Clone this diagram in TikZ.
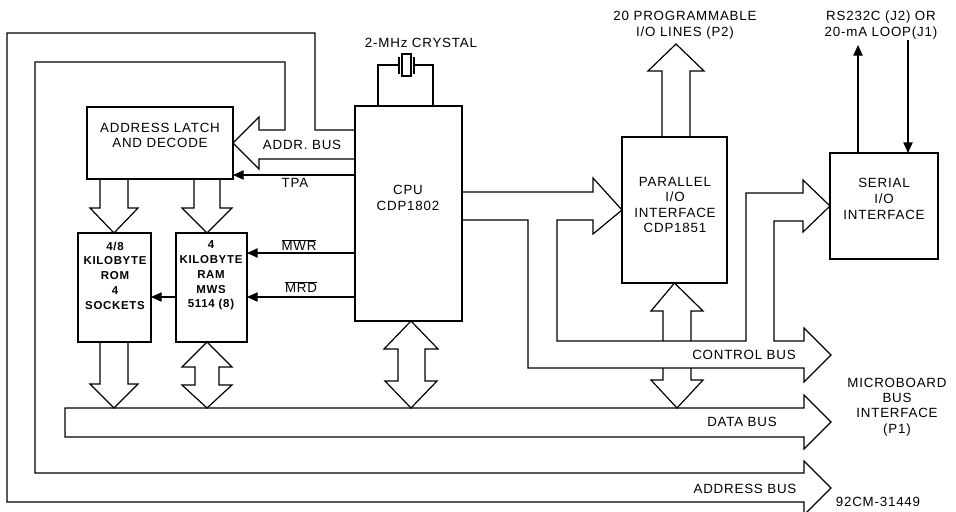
\documentclass[tikz,border=0pt]{standalone}
\usepackage{fontspec}
\setmainfont{Liberation Sans}[LetterSpace=6]
\usetikzlibrary{arrows.meta}
\begin{document}
\begin{tikzpicture}[x=0.75pt,y=-0.75pt,line width=0.9pt,line join=miter,
  box/.style={draw,rectangle,inner sep=0pt,outer sep=0pt},
  txt/.style={align=center,inner sep=0pt,font=\fontsize{10}{11.6}\selectfont},
  smalltxt/.style={align=center,inner sep=0pt,font=\fontsize{8.6}{11.1}\selectfont\bfseries},
  sig/.style={-{Triangle[length=8pt,width=7pt]}},
  bus/.style={draw,line join=miter}]
\useasboundingbox (0,0) rectangle (956,511);
\clip (0,0) rectangle (956,511);

% ---- boxes ----
\node[box,minimum width=109.5pt,minimum height=54pt] (latch) at (160,143) {};
\node[box,minimum width=54.75pt,minimum height=81.75pt] (rom) at (114.5,287.5) {};
\node[box,minimum width=53.25pt,minimum height=81.75pt] (ram) at (211.5,287.5) {};
\node[box,minimum width=80.25pt,minimum height=161.25pt] (cpu) at (408.5,213.5) {};
\node[box,minimum width=78.75pt,minimum height=109.5pt] (pio) at (674.5,210) {};
\node[box,minimum width=81pt,minimum height=79.5pt] (sio) at (884,206) {};

% ---- box texts ----
\node[txt] (latchtxt) at (160,135.5) {ADDRESS LATCH\\AND DECODE};
\node[smalltxt] (romtxt) at (115,275.5) {4/8\\KILOBYTE\\ROM\\4\\SOCKETS};
\node[smalltxt] (ramtxt) at (211,275.5) {4\\KILOBYTE\\RAM\\MWS\\5114 (8)};
\node[txt] (cputxt) at (408,198) {CPU\\CDP1802};
\node[txt,font=\fontsize{10}{11.5}\selectfont] (piotxt) at (675,205) {PARALLEL\\I/O\\INTERFACE\\CDP1851};
\node[txt,font=\fontsize{10}{12}\selectfont] (siotxt) at (884,199) {SERIAL\\I/O\\INTERFACE};

% ---- address bus (loops round to the bottom) ----
\draw[bus] (cpu.west |- 0,130) -- (315,130) -- (315,33) -- (7,33) -- (7,502)
  -- (804,502) -- (804,515) -- (831,488) -- (804,461) -- (804,473)
  -- (35,473) -- (35,62) -- (285,62) -- (285,130) -- (259,130) -- (259,117)
  -- (latch.east) -- (259,169) -- (259,159) -- (cpu.west |- 0,159);

% ---- data bus ----
\draw[bus] (65,408) -- (804,408) -- (804,395) -- (831,422) -- (804,449)
  -- (804,437) -- (65,437) -- cycle;

% ---- control bus ----
\draw[bus] (cpu.east |- 0,192) -- (593,192) -- (593,178) -- (pio.west) -- (593,234)
  -- (593,220) -- (557,220) -- (557,341) -- (746,341) -- (746,193) -- (803,193)
  -- (803,180) -- (sio.west) -- (803,232) -- (803,221) -- (774,221) -- (774,341)
  -- (804,341) -- (804,328) -- (831,355) -- (804,382) -- (804,368) -- (528,368)
  -- (528,220) -- (cpu.east |- 0,220);

% parallel I/O bus arrows
\draw[bus] (663,341) -- (663,311) -- (651,311) -- (pio.south) -- (703,311) -- (691,311) -- (691,341);
\draw[bus] (663,368) -- (663,380) -- (651,380) -- (677,408) -- (703,380) -- (691,380) -- (691,368);
\draw[bus] (pio.north -| 662,0) -- (662,71) -- (648,71) -- (676,44) -- (704,71) -- (690,71) -- (pio.north -| 690,0);

% latch to memories
\draw[bus] (latch.south -| 100,0) -- (100,208) -- (90,208) -- (rom.north -| 114,0) -- (138,208) -- (128,208) -- (latch.south -| 128,0);
\draw[bus] (latch.south -| 194,0) -- (194,208) -- (182,208) -- (ram.north -| 207,0) -- (232,208) -- (220,208) -- (latch.south -| 220,0);

% memories / cpu to data bus
\draw[bus] (rom.south -| 100,0) -- (100,384) -- (90,384) -- (114,408) -- (138,384) -- (128,384) -- (rom.south -| 128,0);
\draw[bus] (ram.south -| 207,0) -- (232,367) -- (219,367) -- (219,385) -- (232,385) -- (207,408)
  -- (182,385) -- (195,385) -- (195,367) -- (182,367) -- cycle;
\draw[bus] (cpu.south -| 411,0) -- (438,349) -- (425,349) -- (425,381) -- (437,381) -- (411,408)
  -- (385,381) -- (398,381) -- (398,349) -- (384,349) -- cycle;

% ---- crystal ----
\draw (cpu.north -| 378,0) -- (378,65) -- (399,65);
\draw (399,57) -- (399,74);
\draw (402,54) rectangle (411,76);
\draw (414,57) -- (414,74);
\draw (414,65) -- (433,65) -- (cpu.north -| 433,0);

% ---- signal lines ----
\draw[sig] (cpu.west |- 0,175) -- (latch.east |- 0,175);
\draw[sig] (cpu.west |- 0,253) -- (ram.east |- 0,253);
\draw[sig] (cpu.west |- 0,297) -- (ram.east |- 0,297);
\draw[sig] (ram.west |- 0,297) -- (rom.east |- 0,297);
\draw[sig] (sio.north -| 858,0) -- (858,45);
\coordinate (rsin) at (908,40);
\draw[sig] (rsin) -- (sio.north -| rsin);

% ---- labels ----
\node[txt] (xtal) at (421,43) {2-MHz CRYSTAL};
\node[txt] (addrl) at (302,145) {ADDR. BUS};
\node[txt] (tpal) at (295,183) {TPA};
\node[txt] (mwrl) at (299,245) {$\overline{\mbox{MWR}}$};
\node[txt] (mrdl) at (301,287) {$\overline{\mbox{MRD}}$};
\node[txt,font=\fontsize{10}{12}\selectfont] (p2l) at (685,25) {20 PROGRAMMABLE\\I/O LINES (P2)};
\node[txt,font=\fontsize{10}{12}\selectfont] (rsl) at (881,25) {RS232C (J2) OR\\20-mA LOOP(J1)};
\node[txt] (ctll) at (744,355) {CONTROL BUS};
\node[txt] (datl) at (742,422) {DATA BUS};
\node[txt] (adrl) at (745,489) {ADDRESS BUS};
\node[txt,font=\fontsize{10}{11.5}\selectfont] (mbl) at (897,407) {MICROBOARD\\BUS\\INTERFACE\\(P1)};
\node[txt] (figno) at (878,502) {92CM-31449};
\end{tikzpicture}
\end{document}
